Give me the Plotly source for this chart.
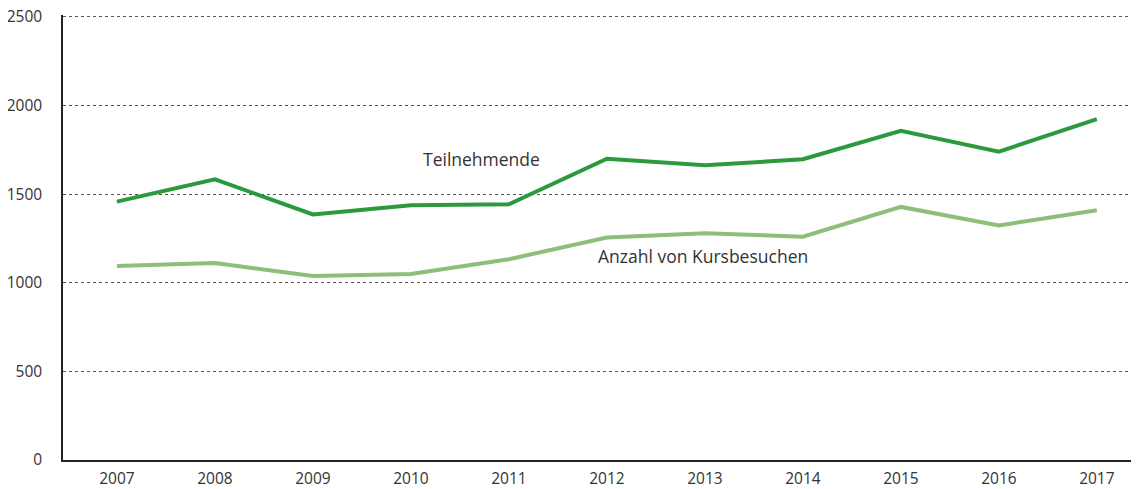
import plotly.graph_objects as go

years = [2007, 2008, 2009, 2010, 2011, 2012, 2013, 2014, 2015, 2016, 2017]
teilnehmende = [1458, 1584, 1386, 1437, 1443, 1700, 1663, 1697, 1858, 1740, 1924]
kursbesuche = [1095, 1112, 1038, 1050, 1133, 1255, 1279, 1260, 1428, 1324, 1409]
y_ticks = [0, 500, 1000, 1500, 2000, 2500]

FONT = "Open Sans, Noto Sans, sans-serif"
TEXT = "#333333"

fig = go.Figure()
fig.add_trace(go.Scatter(x=years, y=kursbesuche, mode="lines",
                         line=dict(color="#8cbf7a", width=4), name="Anzahl von Kursbesuchen"))
fig.add_trace(go.Scatter(x=years, y=teilnehmende, mode="lines",
                         line=dict(color="#2a9a3c", width=4), name="Teilnehmende"))

fig.add_annotation(x=2010.72, y=1700, xref="x", yref="y", text="Teilnehmende",
                   showarrow=False, font=dict(family=FONT, size=17.5, color=TEXT),
                   xanchor="center", yanchor="middle")
fig.add_annotation(x=2012.98, y=1152, xref="x", yref="y", text="Anzahl von Kursbesuchen",
                   showarrow=False, font=dict(family=FONT, size=17.5, color=TEXT),
                   xanchor="center", yanchor="middle")

# page body has an 8px margin; compensate so the plot lands where the reference has it
fig.update_layout(
    width=1131, height=481,
    margin=dict(l=55, r=0, t=7, b=29),
    paper_bgcolor="white", plot_bgcolor="white",
    showlegend=False,
    font=dict(family=FONT, size=15.5, color=TEXT),
)
fig.update_xaxes(
    range=[2006.45, 2017.43],
    tickvals=years, ticktext=[str(y) for y in years],
    showgrid=False, zeroline=False, automargin=False,
    showline=True, linecolor="#222222", linewidth=1.5,
    ticks="", ticklabelstandoff=4, ticklabeloverflow="allow",
    tickfont=dict(family=FONT, size=15.5, color=TEXT),
)
fig.update_yaxes(
    range=[0, 2511],
    tickvals=y_ticks,
    showgrid=True, gridcolor="#555555", griddash="dot", gridwidth=1,
    zeroline=False, automargin=False,
    showline=True, linecolor="#222222", linewidth=1.5,
    ticks="", ticklabelstandoff=16, ticklabeloverflow="allow",
    tickfont=dict(family=FONT, size=15.5, color=TEXT),
)

fig.write_html("out.html")
